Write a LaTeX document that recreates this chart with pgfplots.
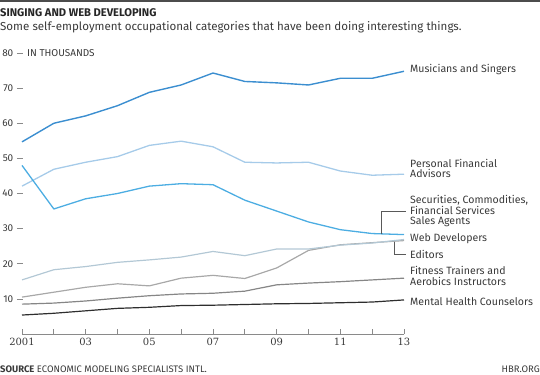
\documentclass[border=0pt]{standalone}
\usepackage{pgfplots}
\pgfplotsset{compat=1.18}
\usepackage{fontspec}
\setmainfont{Fira Sans}
\newfontfamily\tickserif{DejaVu Serif}
\definecolor{cMus}{HTML}{3B8ED0}
\definecolor{cPfa}{HTML}{A6CBE9}
\definecolor{cSec}{HTML}{4CADE2}
\definecolor{cWeb}{HTML}{B3C8D5}
\definecolor{cEdi}{HTML}{A8A8A8}
\definecolor{cFit}{HTML}{868686}
\definecolor{cMen}{HTML}{2E2E2E}
\definecolor{cTxt}{HTML}{3A3A3A}
\definecolor{cAx}{HTML}{8A8A8A}
\begin{document}
\begin{tikzpicture}
\path[use as bounding box] (-22bp,-41bp) rectangle (518bp,334bp);
\fill[black!70] (-22bp,332bp) rectangle (518bp,334bp);
\node[anchor=base west, inner sep=0pt, text=black!85, font=\bfseries\fontsize{11.2}{13}\selectfont] at (-22bp,317bp) {SINGING AND WEB DEVELOPING};
\node[anchor=base west, inner sep=0pt, text=cTxt, font=\fontsize{11.6}{13}\selectfont] at (-22bp,303bp) {Some self-employment occupational categories that have been doing interesting things.};
\node[anchor=base west, inner sep=0pt, text=cTxt, font=\fontsize{9.5}{10}\selectfont] at (-22bp,-38bp) {\textbf{SOURCE} ECONOMIC MODELING SPECIALISTS INTL.};
\node[anchor=base east, inner sep=0pt, text=cTxt, font=\fontsize{9.5}{10}\selectfont] at (518bp,-38bp) {HBR.ORG};
\begin{axis}[
  at={(0,0)}, anchor=south west,
  scale only axis, width=382bp, height=281bp,
  xmin=2001, xmax=2013, ymin=0, ymax=80,
  clip=false,
  axis x line*=bottom, axis y line*=left,
  x axis line style={cAx, line width=0.8pt, -},
  y axis line style={draw=none},
  xtick={2001,...,2013},
  xticklabels={\mbox{2001},,\mbox{03},,\mbox{05},,\mbox{07},,\mbox{09},,\mbox{11},,\mbox{13}},
  xtick style={cAx, line width=0.8pt},
  tick align=inside, major tick length=5bp,
  xticklabel style={font=\tickserif\fontsize{10}{11}\selectfont, text=cTxt, inner sep=0pt, yshift=-4bp},
  ytick={10,20,...,80},
  ytick style={draw=none},
  /pgf/number format/assume math mode=true,
  yticklabel={\pgfmathprintnumber{\tick}\hspace{3.5bp}\textcolor{cAx}{\rule[2.9bp]{6bp}{0.7bp}}},
  yticklabel style={font=\fontsize{10}{11}\selectfont, text=cTxt, anchor=east, inner sep=0pt, xshift=1bp},
  every axis plot/.append style={line join=round},
]
\addplot[cMen, line width=1.2pt] coordinates {(2001,5.4)(2002,5.9)(2003,6.6)(2004,7.3)(2005,7.6)(2006,8.1)(2007,8.2)(2008,8.4)(2009,8.6)(2010,8.7)(2011,8.9)(2012,9.1)(2013,9.7)};
\addplot[cFit, line width=1.2pt] coordinates {(2001,8.5)(2002,8.8)(2003,9.4)(2004,10.2)(2005,10.9)(2006,11.4)(2007,11.6)(2008,12.2)(2009,14.0)(2010,14.5)(2011,14.9)(2012,15.4)(2013,15.9)};
\addplot[cEdi, line width=1.2pt] coordinates {(2001,10.5)(2002,11.9)(2003,13.3)(2004,14.3)(2005,13.7)(2006,15.9)(2007,16.7)(2008,15.8)(2009,18.8)(2010,23.8)(2011,25.4)(2012,26.0)(2013,26.6)};
\addplot[cWeb, line width=1.2pt] coordinates {(2001,15.4)(2002,18.3)(2003,19.2)(2004,20.4)(2005,21.1)(2006,21.9)(2007,23.5)(2008,22.3)(2009,24.2)(2010,24.2)(2011,25.3)(2012,25.9)(2013,26.9)};
\addplot[cPfa, line width=1.3pt] coordinates {(2001,42.1)(2002,46.9)(2003,48.9)(2004,50.5)(2005,53.7)(2006,54.9)(2007,53.3)(2008,48.9)(2009,48.7)(2010,48.9)(2011,46.4)(2012,45.2)(2013,45.5)};
\addplot[cSec, line width=1.3pt] coordinates {(2001,48.0)(2002,35.6)(2003,38.5)(2004,40.0)(2005,42.1)(2006,42.8)(2007,42.5)(2008,38.1)(2009,35.0)(2010,31.9)(2011,29.7)(2012,28.6)(2013,28.3)};
\addplot[cMus, line width=1.4pt] coordinates {(2001,54.7)(2002,60.0)(2003,62.1)(2004,65.0)(2005,68.8)(2006,70.9)(2007,74.3)(2008,71.9)(2009,71.5)(2010,70.9)(2011,72.8)(2012,72.8)(2013,74.8)};
\draw[black!65, line width=0.5pt] (axis cs:2012.3,28.6) |- (axis cs:2013.05,34.9);
\draw[black!65, line width=0.5pt] (axis cs:2012.7,26.3) |- (axis cs:2013.05,22.6);
\node[anchor=west, inner sep=0pt, text=cTxt, font=\fontsize{10}{11}\selectfont] at (axis cs:2001,80) [xshift=5bp] {IN THOUSANDS};
\tikzset{lbl/.style={anchor=west, inner sep=0pt, align=left, text=cTxt, font=\fontsize{10.6}{10.6}\selectfont, xshift=6bp}}
\node[lbl] at (axis cs:2013,75.4) {Musicians and Singers};
\node[lbl] at (axis cs:2013,47.1) {Personal Financial\\Advisors};
\node[lbl] at (axis cs:2013,34.9) {Securities, Commodities,\\Financial Services\\Sales Agents};
\node[lbl] at (axis cs:2013,27.1) {Web Developers};
\node[lbl] at (axis cs:2013,22.6) {Editors};
\node[lbl] at (axis cs:2013,16.6) {Fitness Trainers and\\Aerobics Instructors};
\node[lbl] at (axis cs:2013,9.1) {Mental Health Counselors};
\end{axis}
\end{tikzpicture}
\end{document}
